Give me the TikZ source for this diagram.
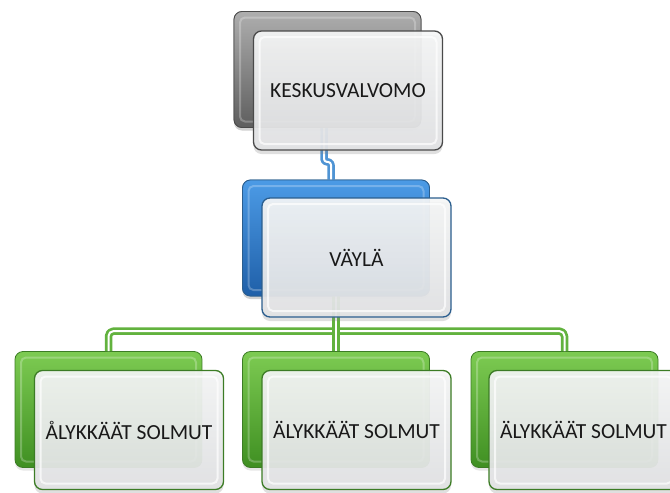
\documentclass[tikz,border=0pt]{standalone}
\usepackage{fontspec}
\setmainfont{Carlito}
\usetikzlibrary{shadows}
\definecolor{grayT}{HTML}{AEAEAE}
\definecolor{grayB}{HTML}{5E5E5E}
\definecolor{grayD}{HTML}{4A4A4A}
\definecolor{blueT}{HTML}{4C9BE6}
\definecolor{blueB}{HTML}{1F5FA8}
\definecolor{blueD}{HTML}{2B5E8E}
\definecolor{greenT}{HTML}{7DCB52}
\definecolor{greenB}{HTML}{3F8F22}
\definecolor{greenD}{HTML}{3C7C25}
\definecolor{frontT}{HTML}{F5F6F6}
\definecolor{frontB}{HTML}{E2E3E5}
\definecolor{blueC}{HTML}{4F94D4}
\definecolor{greenC}{HTML}{62B23E}
\tikzset{
  bevel/.style={path picture={
    \draw[#1, line width=2pt, rounded corners=5pt]
      ([shift={(6pt,-6pt)}]path picture bounding box.north west) rectangle
      ([shift={(-6pt,6pt)}]path picture bounding box.south east);}},
  backbox/.style={rectangle, rounded corners=8pt, minimum width=187pt,
    minimum height=116pt, inner sep=0pt, line width=0.8pt,
    drop shadow={shadow xshift=0pt, shadow yshift=-3pt, opacity=0.2}},
  frontbox/.style={rectangle, rounded corners=8pt, minimum width=189pt,
    minimum height=119pt, inner sep=0pt, line width=1.3pt,
    top color=frontT, bottom color=frontB, fill opacity=0.93, text opacity=1,
    text=black!90, font=\fontsize{21.5}{25}\selectfont,
    bevel={white, opacity=0.7},
    drop shadow={shadow xshift=0pt, shadow yshift=-4pt, opacity=0.25}},
  conn/.style={line width=7.5pt, line join=round,
    postaction={draw=white, line width=2pt}},
  bluec/.style={conn, draw=blueC},
  greenc/.style={conn, draw=greenC},
}
\begin{document}
\begin{tikzpicture}[x=1pt, y=-1pt]
\useasboundingbox (0,0) rectangle (670,493);
% back boxes
\node[backbox, draw=grayD, top color=grayT, bottom color=grayB, bevel={white, opacity=0.25}] (tb) at (327.5,69.5) {};
\node[backbox, draw=blueD, top color=blueT, bottom color=blueB, bevel={white, opacity=0.25}] (mb) at (336,238) {};
\node[backbox, draw=greenD, top color=greenT, bottom color=greenB, bevel={white, opacity=0.25}] (lb) at (108.5,409.5) {};
\node[backbox, draw=greenD, top color=greenT, bottom color=greenB, bevel={white, opacity=0.25}] (cb) at (336,409.5) {};
\node[backbox, draw=greenD, top color=greenT, bottom color=greenB, bevel={white, opacity=0.25}] (rb) at (564.5,409.5) {};
% connectors
\draw[bluec, rounded corners=3pt] ([xshift=-3.5pt]tb.south) -- ++(0,34) -- ++(7,0) -- ([xshift=-5pt]mb.north);
\draw[greenc, rounded corners=5pt] (lb.north) -- ++(0,-20) -| (rb.north);
\draw[greenc] (mb.south) -- (cb.north);
% redraw upper back boxes over connector ends
\node[backbox, draw=grayD, top color=grayT, bottom color=grayB, bevel={white, opacity=0.25}] at (tb) {};
\node[backbox, draw=blueD, top color=blueT, bottom color=blueB, bevel={white, opacity=0.25}] at (mb) {};
% front boxes
\node[frontbox, draw=grayD] (tf) at (348,90.5) {KESKUSVALVOMO};
\node[frontbox, draw=blueD] (mf) at (356.5,257.5) {VÄYLÄ};
\node[frontbox, draw=greenD] (lf) at (129,430) {ÅLYKKÄÄT SOLMUT};
\node[frontbox, draw=greenD] (cf) at (356.5,430) {ÄLYKKÄÄT SOLMUT};
\node[frontbox, draw=greenD] (rf) at (583.5,430) {ÄLYKKÄÄT SOLMUT};
\end{tikzpicture}
\end{document}
